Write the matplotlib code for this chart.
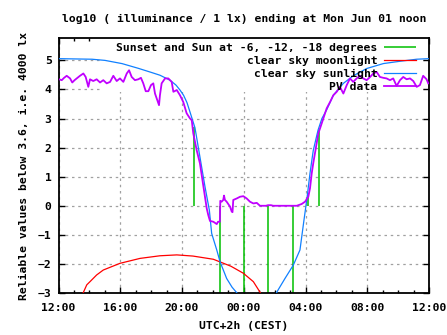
import numpy as np
import matplotlib
matplotlib.use("Agg")
import matplotlib.pyplot as plt
from matplotlib.patches import Rectangle

# hours since 12:00 on the first day (0 .. 24)
tick_hours = [0, 4, 8, 12, 16, 20, 24]
tick_labels = ["12:00", "16:00", "20:00", "00:00", "04:00", "08:00", "12:00"]

# sunset and sun at -6, -12, -18 degrees (impulses)
sun_h = [8.80, 10.48, 12.03, 13.59, 15.21, 16.18, 16.89]
sun_v = [2.7, -4.0, -4.0, -4.0, -4.0, 0.43, 2.6]

# clear sky moonlight
moon_h = [1.55, 1.61, 1.83, 2.04, 2.47, 2.90, 3.98, 5.28, 6.57, 7.66, 8.71,
          10.03, 11.17, 11.97, 12.62, 13.05, 13.12]
moon_v = [-3.05, -2.98, -2.72, -2.61, -2.38, -2.21, -1.98, -1.81, -1.72, -1.69,
          -1.73, -1.84, -2.08, -2.32, -2.61, -2.97, -3.05]

# clear sky sunlight
sunl_h = [0.00, 2.17, 3.01, 4.11, 5.15, 5.93, 6.57, 7.22, 7.61, 7.87, 8.10, 8.32,
          8.52, 8.68, 8.84, 9.16, 9.49, 9.77, 9.92, 10.25, 10.46, 10.89, 11.24,
          11.56, 11.75, 12.85, 13.96, 14.15, 14.67, 15.21, 15.64, 15.90, 16.08,
          16.29, 16.50, 16.81, 17.06, 17.37, 17.80, 18.45, 19.09, 19.96, 21.04,
          22.12, 23.20, 24.00]
sunl_v = [5.06, 5.04, 5.00, 4.89, 4.73, 4.60, 4.49, 4.32, 4.15, 3.98, 3.80, 3.55,
          3.22, 2.95, 2.68, 1.68, 0.65, -0.15, -0.95, -1.52, -1.92, -2.50, -2.80,
          -3.00, -3.20, -4.50, -3.20, -2.96, -2.50, -2.04, -1.52, -0.49, 0.20,
          1.12, 1.90, 2.60, 3.00, 3.30, 3.80, 4.21, 4.47, 4.72, 4.89,
          4.97, 5.04, 5.06]

# PV data
pv_h = [0.03, 0.21, 0.36, 0.53, 0.75, 0.89, 1.04, 1.18, 1.39, 1.61, 1.76, 1.88,
        1.93, 2.04, 2.25, 2.47, 2.69, 2.90, 3.12, 3.34, 3.55, 3.77, 3.98, 4.20,
        4.42, 4.57, 4.74, 4.95, 5.17, 5.34, 5.49, 5.65, 5.82, 5.99, 6.14, 6.25,
        6.36, 6.51, 6.57, 6.68, 6.90, 7.11, 7.33, 7.44, 7.66, 7.87, 8.08, 8.30,
        8.52, 8.63, 8.73, 8.95, 9.16, 9.34, 9.49, 9.60, 9.70, 9.81, 10.03, 10.25,
        10.33, 10.45, 10.48, 10.57, 10.67, 10.72, 10.78, 10.89, 11.11, 11.22,
        11.27, 11.32, 11.54, 11.76, 11.97, 12.19, 12.40, 12.62, 12.84, 13.05,
        13.44, 13.57, 13.76, 13.91, 15.43, 15.75, 15.97, 16.18, 16.29, 16.40,
        16.50, 16.61, 16.72, 16.83, 16.94, 17.15, 17.37, 17.59, 17.80, 18.02,
        18.23, 18.45, 18.67, 18.88, 19.09, 19.31, 19.52, 19.74, 19.96, 20.18,
        20.39, 20.61, 20.82, 21.04, 21.25, 21.47, 21.68, 21.90, 22.12, 22.33,
        22.55, 22.77, 22.98, 23.20, 23.41, 23.62, 23.84, 23.95]
pv_v = [4.35, 4.32, 4.40, 4.47, 4.38, 4.24, 4.32, 4.38, 4.47, 4.55, 4.43, 4.20,
        4.09, 4.35, 4.29, 4.35, 4.24, 4.32, 4.21, 4.26, 4.47, 4.29, 4.38, 4.26,
        4.55, 4.66, 4.43, 4.32, 4.35, 4.40, 4.21, 3.94, 3.94, 4.15, 4.21, 3.86,
        3.69, 3.46, 3.80, 4.21, 4.38, 4.38, 4.26, 3.92, 3.98, 3.80, 3.57, 3.18,
        3.00, 2.94, 2.49, 1.91, 1.46, 0.82, 0.31, -0.09, -0.32, -0.52, -0.55, -0.63,
        -0.55, -0.55, 0.17, 0.14, 0.20, 0.35, 0.20, 0.14, -0.03, -0.20,
        -0.22, 0.20, 0.25, 0.31, 0.33, 0.25, 0.14, 0.08, 0.10, 0.00,
        0.00, 0.02, 0.02, 0.00, 0.00, 0.06, 0.14, 0.31, 0.60, 1.11,
        1.46, 1.80, 2.14, 2.49, 2.66, 3.00, 3.35, 3.57, 3.80, 3.92,
        4.09, 3.86, 4.15, 4.38, 4.26, 4.38, 4.47, 4.38, 4.32, 4.43,
        4.55, 4.60, 4.43, 4.40, 4.38, 4.32, 4.38, 4.12, 4.32, 4.43,
        4.35, 4.38, 4.29, 4.09, 4.15, 4.47, 4.35, 4.21]

FONT = dict(family="DejaVu Sans Mono", weight="bold", size=8.2)
plt.rcParams["font.family"] = "DejaVu Sans Mono"
plt.rcParams["font.weight"] = "bold"
plt.rcParams["font.size"] = 8.2

fig = plt.figure(figsize=(4.47, 3.35), dpi=100)
ax = fig.add_axes([0.1309, 0.1254, 0.8289, 0.7603])

ax.set_xlim(0, 24)
ax.set_ylim(-3, 5.76)

# grid behind, key area blanks it out (like gnuplot's opaque key)
ax.set_axisbelow(True)
ax.grid(True, which="major", color="#a0a0a0", linestyle=(0, (2, 3)), linewidth=0.9)
ax.add_patch(Rectangle((0.120, 0.789), 0.864, 0.211, transform=ax.transAxes,
                       facecolor="white", edgecolor="none", zorder=1))

ax.vlines(sun_h, 0, sun_v, colors="#00c000", linewidth=1.1, zorder=2,
          label="Sunset and Sun at -6, -12, -18 degrees")
ax.plot(moon_h, moon_v, color="#ff0000", linewidth=0.9, zorder=3,
        label="clear sky moonlight")
ax.plot(sunl_h, sunl_v, color="#1080ff", linewidth=0.9, zorder=3,
        label="clear sky sunlight")
ax.plot(pv_h, pv_v, color="#c000ff", linewidth=1.3, zorder=4, label="PV data")

ax.set_xticks(tick_hours)
ax.set_xticklabels(tick_labels)
ax.set_xticks(np.arange(0, 25, 1), minor=True)
ax.set_yticks(range(-3, 6))
ax.tick_params(which="both", direction="in", top=True, right=True, width=1.0)
ax.tick_params(which="major", length=4.5, pad=5)
ax.tick_params(axis="x", which="major", pad=7)
ax.tick_params(which="minor", length=2.2)
for s in ax.spines.values():
    s.set_linewidth(1.3)

ax.set_title("log10 ( illuminance / 1 lx) ending at Mon Jun 01 noon", pad=12, **FONT)
ax.set_xlabel("UTC+2h (CEST)", labelpad=6, **FONT)
ax.set_ylabel("Reliable values below 3.6, i.e. 4000 lx", labelpad=6, **FONT)

ax.legend(loc="upper right", bbox_to_anchor=(0.965, 0.982), borderaxespad=0,
          borderpad=0, frameon=False, markerfirst=False, handlelength=2.8,
          handletextpad=0.6, labelspacing=0.27, prop=FONT)

fig.savefig("out.png", dpi=100)
